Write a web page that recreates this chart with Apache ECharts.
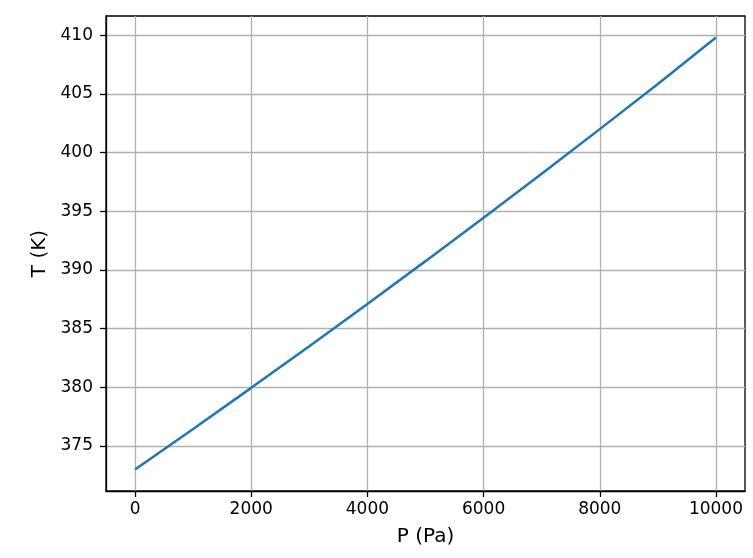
<!DOCTYPE html>
<html>
<head>
<meta charset="utf-8">
<script src="https://cdn.jsdelivr.net/npm/echarts@6/dist/echarts.min.js"></script>
<style>
html,body{margin:0;padding:0;background:#fff;}
#chart{width:753px;height:558px;}
</style>
</head>
<body>
<div id="chart"></div>
<script>
var pressure = [0, 1000, 2000, 3000, 4000, 5000, 6000, 7000, 8000, 9000, 10000];
var temperature = [373.0, 376.45, 379.95, 383.5, 387.1, 390.75, 394.45, 398.2, 402.0, 405.85, 409.8];
var xTicks = [0, 2000, 4000, 6000, 8000, 10000];
var yTicks = [375, 380, 385, 390, 395, 400, 405, 410];

var chart = echarts.init(document.getElementById('chart'), null, {renderer: 'canvas'});
var font = 'DejaVu Sans';
var seriesData = pressure.map(function (p, i) { return [p, temperature[i]]; });
function plain(v) { return String(v); }

chart.setOption({
  backgroundColor: '#ffffff',
  animation: false,
  grid: {
    left: 106, right: 8, top: 16, bottom: 67,
    show: true, borderColor: '#000', borderWidth: 1.3, backgroundColor: 'transparent'
  },
  xAxis: {
    type: 'value',
    min: -500, max: 10500,
    name: 'P (Pa)',
    nameLocation: 'middle',
    nameGap: 36,
    nameTextStyle: {fontFamily: font, fontSize: 20, color: '#000'},
    axisLine: {show: true, onZero: false, lineStyle: {color: '#000', width: 1.3}},
    axisTick: {show: true, length: 6, customValues: xTicks, lineStyle: {color: '#000', width: 1.3}},
    axisLabel: {customValues: xTicks, formatter: plain, margin: 10, fontFamily: font, fontSize: 17, color: '#000'},
    splitLine: {show: true, lineStyle: {color: '#b0b0b0', width: 1.3}}
  },
  yAxis: {
    type: 'value',
    min: 371.16, max: 411.64,
    name: 'T (K)',
    nameLocation: 'middle',
    nameGap: 54,
    nameRotate: 90,
    nameTextStyle: {fontFamily: font, fontSize: 20, color: '#000'},
    axisLine: {show: true, onZero: false, lineStyle: {color: '#000', width: 1.3}},
    axisTick: {show: true, length: 6, customValues: yTicks, lineStyle: {color: '#000', width: 1.3}},
    axisLabel: {customValues: yTicks, formatter: plain, margin: 13, fontFamily: font, fontSize: 17, color: '#000'},
    splitLine: {show: true, lineStyle: {color: '#b0b0b0', width: 1.3}}
  },
  series: [{
    type: 'line',
    data: seriesData,
    showSymbol: false,
    symbol: 'none',
    lineStyle: {color: '#1f77b4', width: 2.5},
    itemStyle: {color: '#1f77b4'}
  }]
});
</script>
</body>
</html>
